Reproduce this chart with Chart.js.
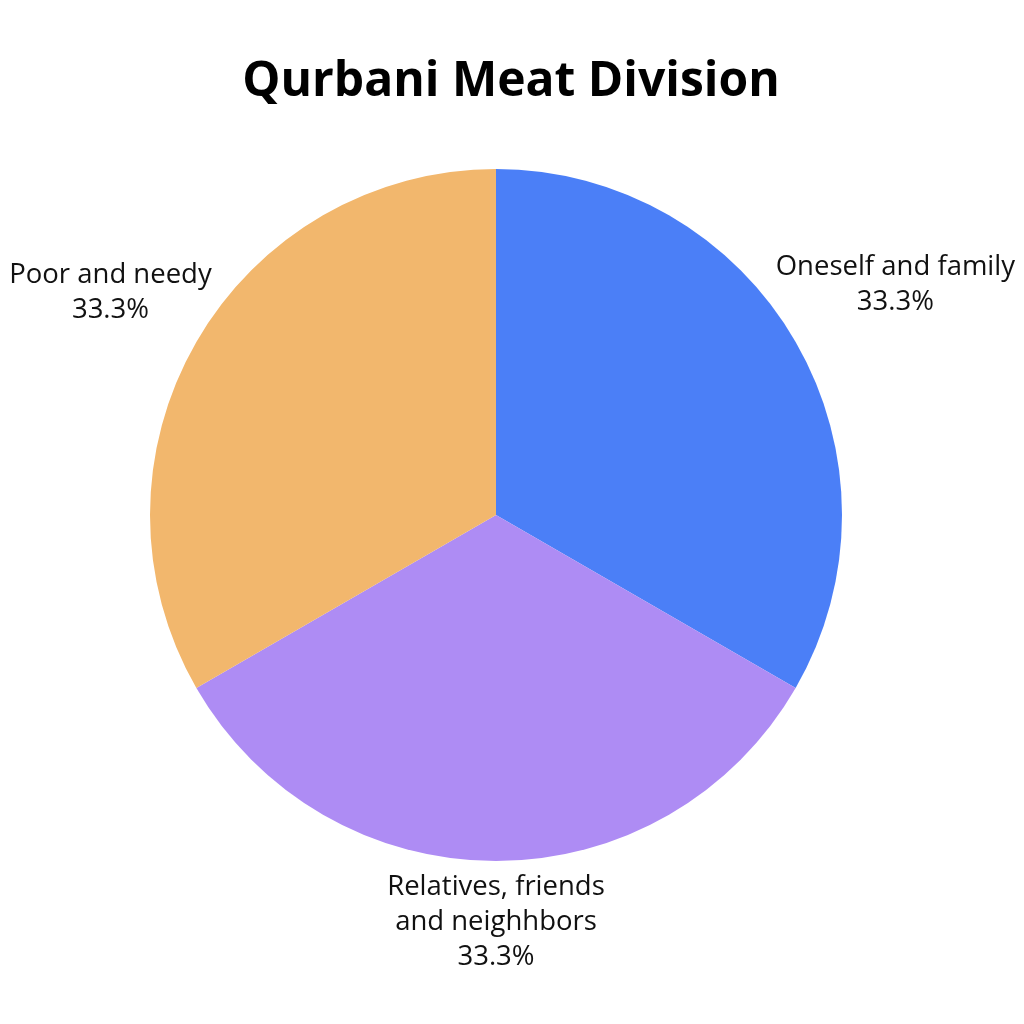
<!DOCTYPE html>
<html>
<head>
<meta charset="utf-8">
<script src="https://cdn.jsdelivr.net/npm/chart.js@4"></script>
<style>
  html,body{margin:0;padding:0;background:#fff}
  #wrap{position:relative;width:1024px;height:1024px}
</style>
</head>
<body>
<div id="wrap"><canvas id="ch"></canvas></div>
<script>
const chartTitle='Qurbani Meat Division';
const labels=[['Oneself and family'],['Relatives, friends','and neighhbors'],['Poor and needy']];
const values=[33.3,33.3,33.3];
const colors=['#4B7FF7','#AE8CF4','#F2B76D'];

// outside labels: name lines + percent, placed just beyond each slice
const outLabels={
  id:'outLabels',
  afterDraw(chart){
    const c=chart.ctx;
    const meta=chart.getDatasetMeta(0);
    const font='27.5px "Open Sans", sans-serif';
    const lh=35;
    c.save();
    c.font=font;c.fillStyle='#111';c.textAlign='center';c.textBaseline='middle';
    meta.data.forEach((arc,i)=>{
      const lines=labels[i].concat([values[i].toFixed(1)+'%']);
      const w=Math.max(...lines.map(t=>c.measureText(t).width));
      const h=lines.length*lh;
      const mid=(arc.startAngle+arc.endAngle)/2;
      const cs=Math.cos(mid),sn=Math.sin(mid);
      const gap=sn>0?9:-6;
      const off=Math.abs(cs)*w/2+Math.abs(sn)*h/2+gap;
      const r=arc.outerRadius+off;
      const cx=arc.x+cs*r, cy=arc.y+sn*r;
      lines.forEach((t,k)=>c.fillText(t,cx,cy-h/2+lh/2+k*lh));
    });
    // title
    c.font='bold 48px "Open Sans", sans-serif';c.fillStyle='#000';
    c.fillText(chartTitle,511,82);
    c.restore();
  }
};

new Chart(document.getElementById('ch'),{
  type:'pie',
  data:{labels:labels.map(l=>l.join(' ')),datasets:[{data:values,backgroundColor:colors,borderWidth:0}]},
  options:{
    responsive:true,maintainAspectRatio:false,animation:false,
    layout:{padding:{left:150,right:182,top:169,bottom:163}},
    plugins:{legend:{display:false},tooltip:{enabled:false},title:{display:false}}
  },
  plugins:[outLabels]
});
</script>
</body>
</html>
